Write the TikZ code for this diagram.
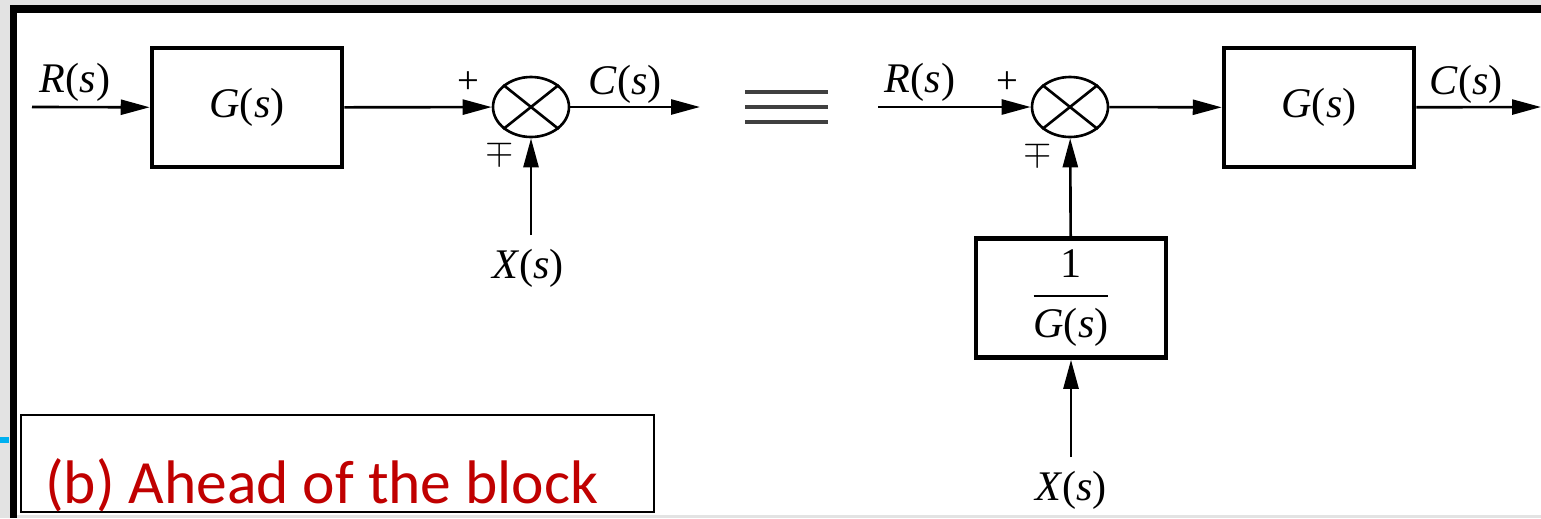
\documentclass[tikz,border=0pt]{standalone}
\usepackage{amsmath}
\usepackage{fontspec}
\setmainfont{Liberation Serif}
\newfontfamily\capfont{Carlito}
\usetikzlibrary{arrows.meta, shapes.geometric}
\newcommand{\sigtxt}[1]{\textit{#1}(\textit{s})}
\definecolor{capred}{HTML}{C00000}
\definecolor{slideblue}{HTML}{00B0F0}

\begin{document}
\begin{tikzpicture}[
    x=0.02cm, y=-0.02cm,
    block/.style={rectangle, draw, line width=2.6pt, minimum width=3.8cm, minimum height=2.38cm, inner sep=0pt, font=\fontsize{24}{28}\selectfont},
    sum/.style={ellipse, draw, line width=1.5pt, minimum width=1.52cm, minimum height=1.2cm, inner sep=0pt},
    edge/.style={draw, line width=1.5pt},
    arrowedge/.style={edge, -{Triangle[length=5.8mm, width=3mm]}},
    signal/.style={font=\fontsize{24}{28}\selectfont, inner sep=0pt},
    sign/.style={font=\fontsize{22}{24}\selectfont, inner sep=0pt}
]
\useasboundingbox (0,0) rectangle (1541,518);

% slide frame
\fill[black!11] (0,0) rectangle (1541,518);
\fill[white] (17,13) rectangle (1541,515);
\fill[black] (10,5) rectangle (1541,13);
\fill[black] (10,5) rectangle (17,518);
\fill[slideblue] (0,437) rectangle (9,443);

% left diagram
\node[block] (g1) at (247,107.5) {\sigtxt{G}};
\node[sum] (s1) at (531,107) {};
\draw[edge] (s1.north west) -- (s1.south east);
\draw[edge] (s1.north east) -- (s1.south west);

\coordinate (in1) at (32,107);
\coordinate (out1) at (700,107);
\coordinate (x1) at (531,235);

\node[signal] (r1) at (75,82) {\sigtxt{R}};
\node[signal] (c1) at (625,84) {\sigtxt{C}};
\node[signal] (xl1) at (528,268) {\sigtxt{X}};
\node[sign] (p1) at (468,83) {+};
\node[sign] (m1) at (500,152) {$\mp$};

\draw[arrowedge] (in1) -- (g1);
\draw[arrowedge] (g1) -- (s1);
\draw[arrowedge] (s1) -- (out1);
\draw[arrowedge] (x1) -- (s1);

% equivalence sign
\foreach \y in {92,107,122}
  \draw[line width=2pt, black!75] (745,\y) -- (828,\y);

% right diagram
\node[sum] (s2) at (1070,107) {};
\draw[edge] (s2.north west) -- (s2.south east);
\draw[edge] (s2.north east) -- (s2.south west);
\node[block] (g2) at (1319,107.5) {\sigtxt{G}};
\node[block] (h2) at (1071,298) {$\dfrac{\text{1}}{\text{\sigtxt{G}}}$};

\coordinate (in2) at (878,107);
\coordinate (out2) at (1541,107);
\coordinate (x2) at (1071,457);

\node[signal] (r2) at (920,82) {\sigtxt{R}};
\node[signal] (c2) at (1466,84) {\sigtxt{C}};
\node[signal] (xl2) at (1071,490) {\sigtxt{X}};
\node[sign] (p2) at (1007,83) {+};
\node[sign] (m2) at (1038,153) {$\mp$};

\draw[arrowedge] (in2) -- (s2);
\draw[arrowedge] (s2) -- (g2);
\draw[arrowedge] (g2) -- (out2);
\draw[arrowedge] (h2) -- (s2);
\draw[arrowedge] (x2) -- (h2);

% caption
\draw[line width=1.1pt] (21,415) rectangle (654,512);
\node[anchor=base west, inner sep=0pt, text=capred, font=\capfont\fontsize{35}{40}\selectfont] (cap) at (45,503) {(b) Ahead of the block};

\end{tikzpicture}
\end{document}
